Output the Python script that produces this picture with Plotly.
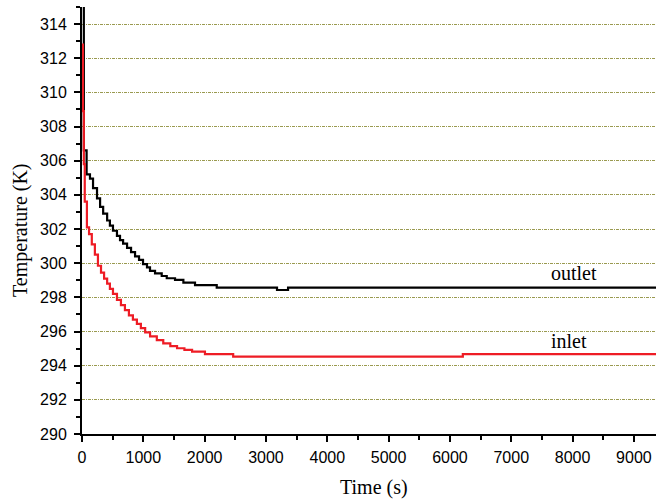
import plotly.graph_objects as go

# Outlet temperature (black), step data: time (s), temperature (K)
outlet_t = [0, 30, 75, 130, 180, 245, 295, 345, 410, 455, 505, 570, 620, 670, 735, 800,
            865, 930, 995, 1060, 1109, 1191, 1300, 1382, 1517, 1653, 1843, 2197, 3180, 3360, 9360]
outlet_T = [318, 306.6, 305.2, 304.95, 304.4, 303.8, 303.3, 302.9, 302.5, 302.2, 301.9, 301.6,
            301.35, 301.15, 300.9, 300.65, 300.4, 300.2, 299.95, 299.75, 299.55, 299.4, 299.25,
            299.12, 299.02, 298.86, 298.72, 298.57, 298.43, 298.57, 298.57]

# Inlet temperature (red)
inlet_t = [0, 15, 30, 45, 80, 115, 160, 210, 260, 310, 360, 410, 455, 505, 570, 635, 700,
           765, 830, 895, 960, 1030, 1110, 1220, 1325, 1440, 1550, 1670, 1795, 2005, 2465, 6210, 9360]
inlet_T = [312.8, 308.9, 305.8, 303.6, 302.1, 301.7, 301.1, 300.5, 299.85, 299.45, 299.1,
           298.8, 298.5, 298.2, 297.85, 297.55, 297.25, 296.95, 296.7, 296.45, 296.2, 295.95,
           295.72, 295.5, 295.31, 295.15, 295.02, 294.92, 294.82, 294.68, 294.53, 294.68, 294.68]

y_ticks = list(range(290, 315, 2))
x_ticks = list(range(0, 10000, 1000))

fig = go.Figure()
fig.add_trace(go.Scatter(x=outlet_t, y=outlet_T, mode="lines", line_shape="hv",
                         line=dict(color="black", width=2.2), name="outlet"))
fig.add_trace(go.Scatter(x=inlet_t, y=inlet_T, mode="lines", line_shape="hv",
                         line=dict(color="#ee1c25", width=2.2), name="inlet"))

tickfont = dict(family="Liberation Sans, Arial", size=16, color="black")
serif = dict(family="Liberation Serif, Times New Roman", size=20, color="black")

fig.update_layout(
    width=656, height=501,
    margin=dict(l=82, r=0, t=7, b=67),
    paper_bgcolor="white", plot_bgcolor="white",
    showlegend=False,
    xaxis=dict(range=[0, 9360], tickvals=x_ticks, ticktext=[str(v) for v in x_ticks],
               showline=True, linecolor="black", linewidth=2,
               ticks="outside", ticklen=6, tickwidth=2, tickcolor="black",
               minor=dict(dtick=500, ticks="outside", ticklen=4, tickwidth=2, tickcolor="black", showgrid=False),
               showgrid=False, zeroline=False, tickfont=tickfont, ticklabelstandoff=2),
    yaxis=dict(range=[290, 315], tickvals=y_ticks, ticktext=[str(v) for v in y_ticks],
               showline=True, linecolor="black", linewidth=2,
               ticks="outside", ticklen=6, tickwidth=2, tickcolor="black",
               minor=dict(dtick=1, tick0=290, ticks="outside", ticklen=4, tickwidth=2, tickcolor="black", showgrid=False),
               showgrid=True, gridcolor="#9a9a50", gridwidth=1, griddash="3px,1px,1px,1px",
               zeroline=False, tickfont=tickfont, ticklabelstandoff=4),
    annotations=[
        dict(text="outlet", x=7618, y=299.4, xref="x", yref="y", xanchor="left", yanchor="middle",
             showarrow=False, font=serif),
        dict(text="inlet", x=7618, y=295.44, xref="x", yref="y", xanchor="left", yanchor="middle",
             showarrow=False, font=serif),
        dict(text="Time (s)", x=(374 - 82) / 574, y=-(488 - 434) / 427, xref="paper", yref="paper",
             xanchor="center", yanchor="middle", showarrow=False, font=serif),
        dict(text="Temperature (K)", x=(20 - 82) / 574, y=(434 - 230) / 427, xref="paper", yref="paper",
             xanchor="center", yanchor="middle", textangle=-90, showarrow=False, font=serif),
    ],
)

fig.write_html("out.html", config={"displayModeBar": False},
               post_script="document.body.style.margin='0';document.body.style.overflow='hidden';")
